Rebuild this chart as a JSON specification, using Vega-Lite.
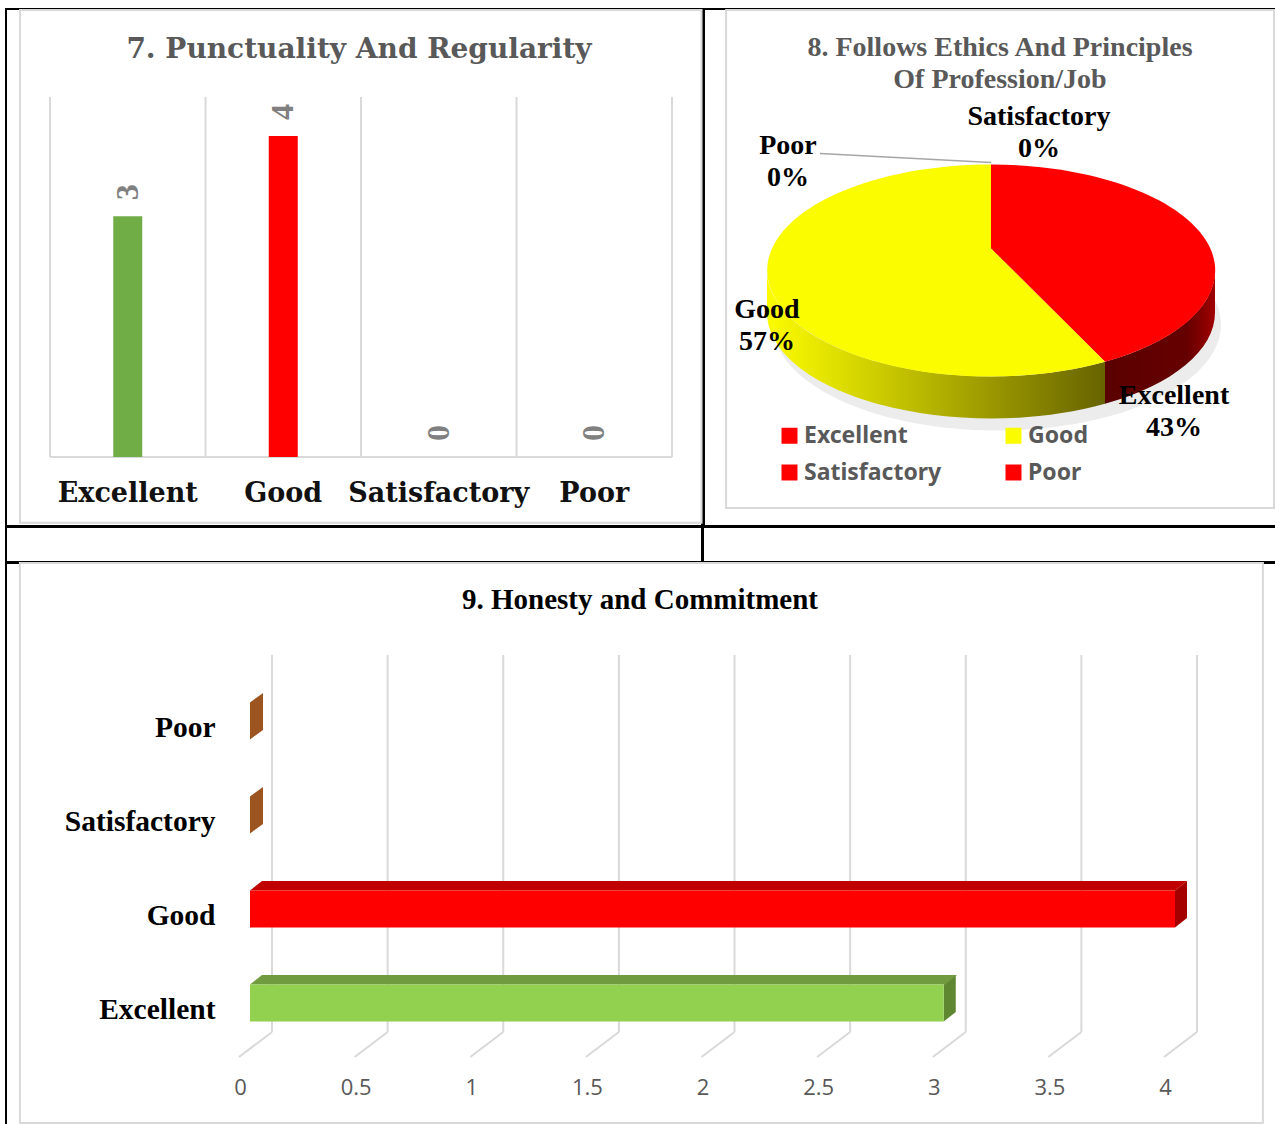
{
"$schema":"https://vega.github.io/schema/vega-lite/v6.json",
"background":"white",
"padding":{"left":2,"top":8,"right":0,"bottom":0},
"autosize":{"type":"pad"},
"spacing":-4,
"resolve":{"scale":{"color":"independent","shape":"independent"}},
"config":{"view":{"stroke":"black","strokeWidth":2},"title":{"fontWeight":"bold","anchor":"middle","frame":"group"}},
"datasets":{
"scores7":[{"category":"Excellent","score":3},{"category":"Good","score":4},{"category":"Satisfactory","score":0},{"category":"Poor","score":0}],
"scores9":[{"category":"Excellent","score":3},{"category":"Good","score":4},{"category":"Satisfactory","score":0},{"category":"Poor","score":0}],
"pie8":[{"category":"Excellent","percent":43,"label":"Excellent\n43%"},{"category":"Good","percent":57,"label":"Good\n57%"},{"category":"Satisfactory","percent":0,"label":"Satisfactory\n0%"},{"category":"Poor","percent":0,"label":"Poor\n0%"}]
},
"vconcat":[
{"hconcat":[
{"width":696,"height":517,
 "title":{"text":"7. Punctuality And Regularity","font":"DejaVu Serif","fontSize":28,"color":"#595959","offset":-55,"dx":5},
 "resolve":{"scale":{"x":"independent","y":"independent"}},
 "layer":[
 {"data":{"values":[{"left":-0.193,"right":4.19,"low":-0.82,"high":5.57}]},
  "mark":{"type":"rect","fill":null,"stroke":"#D9D9D9","strokeWidth":2,"clip":false},
  "encoding":{"x":{"field":"left","type":"quantitative","scale":{"domain":[0,4],"range":[44,666]},"axis":null},"x2":{"field":"right"},
   "y":{"field":"low","type":"quantitative","scale":{"domain":[0,4.486],"range":[448,88]},"axis":null},"y2":{"field":"high"}}},
 {"data":{"values":[{"edge":0,"low":0,"high":4.486},{"edge":1,"low":0,"high":4.486},{"edge":2,"low":0,"high":4.486},{"edge":3,"low":0,"high":4.486},{"edge":4,"low":0,"high":4.486}]},
  "mark":{"type":"rule","stroke":"#D9D9D9","strokeWidth":2},
  "encoding":{"x":{"field":"edge","type":"quantitative","scale":{"domain":[0,4],"range":[44,666]},"axis":null},
   "y":{"field":"low","type":"quantitative","scale":{"domain":[0,4.486],"range":[448,88]},"axis":null},"y2":{"field":"high"}}},
 {"data":{"values":[{"from":0,"to":4,"level":0}]},
  "mark":{"type":"rule","stroke":"#D9D9D9","strokeWidth":2},
  "encoding":{"x":{"field":"from","type":"quantitative","scale":{"domain":[0,4],"range":[44,666]},"axis":null},"x2":{"field":"to"},
   "y":{"field":"level","type":"quantitative","scale":{"domain":[0,4.486],"range":[448,88]},"axis":null}}},
 {"data":{"name":"scores7"},
  "mark":{"type":"bar","size":29},
  "encoding":{"x":{"field":"category","type":"nominal","sort":null,"scale":{"domain":["Excellent","Good","Satisfactory","Poor"],"range":[44,666],"paddingInner":0,"paddingOuter":0},
    "axis":{"title":null,"domain":false,"ticks":false,"labelAngle":0,"labelFont":"DejaVu Serif","labelFontWeight":"bold","labelFontSize":27,"labelColor":"#111111","labelPadding":0,"offset":-46,"labelOverlap":false,"labelBound":false,"labelFlush":false,"labelLimit":0,"grid":false}},
   "y":{"field":"score","type":"quantitative","scale":{"domain":[0,4.486],"range":[448,88]},"axis":null},
   "color":{"field":"category","type":"nominal","scale":{"domain":["Excellent","Good","Satisfactory","Poor"],"range":["#70AD47","#FF0000","#A5A5A5","#FFC000"]},"legend":null}}},
 {"data":{"name":"scores7"},
  "mark":{"type":"text","angle":270,"dx":24,"align":"center","baseline":"middle","font":"Liberation Serif","fontWeight":"bold","fontSize":32,"color":"#808080"},
  "encoding":{"x":{"field":"category","type":"nominal","sort":null,"scale":{"domain":["Excellent","Good","Satisfactory","Poor"],"range":[44,666],"paddingInner":0,"paddingOuter":0},"axis":null},
   "y":{"field":"score","type":"quantitative","scale":{"domain":[0,4.486],"range":[448,88]},"axis":null},
   "text":{"field":"score","type":"quantitative"}}}
 ]},
{"width":574,"height":517,
 "title":{"text":["8. Follows Ethics And Principles","Of Profession/Job"],"font":"Liberation Serif","fontSize":28,"lineHeight":32,"color":"#595959","offset":-85,"dx":9},
 "layer":[
 {"data":{"values":[{"left":-0.923,"right":0.986,"low":-0.93,"high":0.996}]},
  "mark":{"type":"rect","fill":null,"stroke":"#D9D9D9","strokeWidth":2,"clip":false},
  "encoding":{"x":{"field":"left","type":"quantitative","scale":{"domain":[-1,1]},"axis":null},"x2":{"field":"right"},"y":{"field":"low","type":"quantitative","scale":{"domain":[-1,1]},"axis":null},"y2":{"field":"high"}}},
 {"encoding":{"x":{"datum":0,"type":"quantitative","scale":{"domain":[-1,1]},"axis":null},"y":{"datum":0,"type":"quantitative","scale":{"domain":[-1,1]},"axis":null}},
  "layer":[
 {"data":{"name":"pie8"},"transform":[{"filter":"datum.category==='Good'"}],
  "mark":{"type":"point","filled":true,"opacity":1,"size":4,"shape":"M-218,57A224,106 0 1 1 230,57A224,106 0 1 1 -218,57Z","fill":"#ECECEC"}},
 {"data":{"name":"pie8"},"transform":[{"filter":"datum.category==='Excellent'"}],
  "mark":{"type":"point","filled":true,"opacity":1,"size":4,"shape":"M224,3L224,45A224,106 0 0 1 114,136.3L114,94.3A224,106 0 0 0 224,3Z",
   "fill":{"gradient":"linear","x1":0,"y1":0,"x2":1,"y2":0,"stops":[{"offset":0,"color":"#5A0000"},{"offset":0.75,"color":"#660000"},{"offset":1,"color":"#A00000"}]}}},
 {"data":{"name":"pie8"},"transform":[{"filter":"datum.category==='Good'"}],
  "mark":{"type":"point","filled":true,"opacity":1,"size":4,"shape":"M114,94.3L114,136.3A224,106 0 0 1 -224,45L-224,3A224,106 0 0 0 114,94.3Z",
   "fill":{"gradient":"linear","x1":0,"y1":0,"x2":1,"y2":0,"stops":[{"offset":0,"color":"#FCFC00"},{"offset":0.2,"color":"#E0E000"},{"offset":1,"color":"#676300"}]}}},
 {"data":{"name":"pie8"},"transform":[{"filter":"datum.category==='Excellent'"}],
  "mark":{"type":"point","filled":true,"opacity":1,"size":4,"fill":"#FF0000","shape":"M0,-19L0,-103A224,106 0 0 1 114,94.3Z"}},
 {"data":{"name":"pie8"},"transform":[{"filter":"datum.category==='Good'"}],
  "mark":{"type":"point","filled":true,"opacity":1,"size":4,"fill":"#FCFC00","shape":"M0,-19L114,94.3A224,106 0 1 1 0,-103Z"}},
 {"data":{"name":"pie8"},
  "mark":{"type":"point","filled":true,"opacity":1,"size":0,"shape":"square"},
  "encoding":{
   "color":{"field":"category","type":"nominal","scale":{"domain":["Excellent","Satisfactory","Good","Poor"],"range":["#FF0000","#FF0000","#FCFC00","#FF0000"]},
    "legend":{"orient":"none","legendX":74,"legendY":415,"columns":2,"title":null,"symbolType":"square","symbolSize":256,"symbolOpacity":1,"labelFont":"Noto Sans","labelFontSize":23,"labelFontWeight":"bold","labelColor":"#595959","columnPadding":60,"rowPadding":13,"labelOffset":3,"labelLimit":0}}}},
 {"data":{"name":"pie8"},"transform":[{"filter":"datum.category==='Poor'"}],
  "mark":{"type":"point","filled":false,"opacity":1,"size":4,"strokeWidth":1.5,"stroke":"#A6A6A6","shape":"M-171,-114L0,-105"}},
 {"data":{"name":"pie8"},"transform":[{"filter":"datum.category==='Satisfactory'"}],
  "mark":{"type":"text","lineBreak":"\n","lineHeight":32,"align":"center","baseline":"alphabetic","dx":48,"dy":-143,"font":"Liberation Serif","fontWeight":"bold","fontSize":28,"color":"black"},
  "encoding":{"text":{"field":"label"}}},
 {"data":{"name":"pie8"},"transform":[{"filter":"datum.category==='Poor'"}],
  "mark":{"type":"text","lineBreak":"\n","lineHeight":32,"align":"center","baseline":"alphabetic","dx":-203,"dy":-114,"font":"Liberation Serif","fontWeight":"bold","fontSize":28,"color":"black"},
  "encoding":{"text":{"field":"label"}}},
 {"data":{"name":"pie8"},"transform":[{"filter":"datum.category==='Good'"}],
  "mark":{"type":"text","lineBreak":"\n","lineHeight":32,"align":"center","baseline":"alphabetic","dx":-224,"dy":50,"font":"Liberation Serif","fontWeight":"bold","fontSize":28,"color":"black"},
  "encoding":{"text":{"field":"label"}}},
 {"data":{"name":"pie8"},"transform":[{"filter":"datum.category==='Excellent'"}],
  "mark":{"type":"text","lineBreak":"\n","lineHeight":32,"align":"center","baseline":"alphabetic","dx":183,"dy":136,"font":"Liberation Serif","fontWeight":"bold","fontSize":28,"color":"black"},
  "encoding":{"text":{"field":"label"}}}
  ]}
 ]}
],"spacing":-4,"resolve":{"scale":{"color":"independent","shape":"independent"}}},
{"hconcat":[
 {"width":696,"height":35,"data":{"values":[{"row":"blank"}]},"mark":{"type":"point","opacity":0},"encoding":{"x":{"datum":0,"type":"quantitative","axis":null},"y":{"datum":0,"type":"quantitative","axis":null}}},
 {"width":574,"height":35,"data":{"values":[{"row":"blank"}]},"mark":{"type":"point","opacity":0},"encoding":{"x":{"datum":0,"type":"quantitative","axis":null},"y":{"datum":0,"type":"quantitative","axis":null}}}
],"spacing":-4},
{"width":1272,"height":567,
 "title":{"text":"9. Honesty and Commitment","font":"Liberation Serif","fontSize":29,"color":"black","offset":-53,"dx":-2},
 "resolve":{"scale":{"x":"independent","y":"independent","color":"independent","shape":"independent"}},
 "layer":[
 {"data":{"values":[{"left":-1.09,"right":4.285,"low":-0.239,"high":1.247}]},
  "mark":{"type":"rect","fill":null,"stroke":"#D9D9D9","strokeWidth":2,"clip":false},
  "encoding":{"x":{"field":"left","type":"quantitative","scale":{"domain":[0,4],"range":[266,1191]},"axis":null},"x2":{"field":"right"},
   "y":{"field":"low","type":"quantitative","scale":{"domain":[0,1],"range":[470,93]},"axis":null},"y2":{"field":"high"}}},
 {"data":{"values":[{"tick":0,"low":0,"high":1},{"tick":0.5,"low":0,"high":1},{"tick":1,"low":0,"high":1},{"tick":1.5,"low":0,"high":1},{"tick":2,"low":0,"high":1},{"tick":2.5,"low":0,"high":1},{"tick":3,"low":0,"high":1},{"tick":3.5,"low":0,"high":1},{"tick":4,"low":0,"high":1}]},
  "mark":{"type":"rule","stroke":"#D9D9D9","strokeWidth":2},
  "encoding":{"x":{"field":"tick","type":"quantitative","scale":{"domain":[0,4],"range":[266,1191]},"axis":null},
    "y":{"field":"low","type":"quantitative","scale":{"domain":[0,1],"range":[469,92]},"axis":null},"y2":{"field":"high"}}},
 {"data":{"values":[{"tick":0,"low":0},{"tick":0.5,"low":0},{"tick":1,"low":0},{"tick":1.5,"low":0},{"tick":2,"low":0},{"tick":2.5,"low":0},{"tick":3,"low":0},{"tick":3.5,"low":0},{"tick":4,"low":0}]},
  "mark":{"type":"point","filled":false,"opacity":1,"size":4,"stroke":"#D9D9D9","strokeWidth":2,"shape":"M0,0L-33,25"},
   "encoding":{"x":{"field":"tick","type":"quantitative","scale":{"domain":[0,4],"range":[266,1191]},"axis":null},
    "y":{"field":"low","type":"quantitative","scale":{"domain":[0,1],"range":[469,92]},"axis":null}}},
 {"data":{"name":"scores9"},
  "mark":{"type":"point","filled":true,"opacity":1,"size":4},
  "encoding":{"x":{"field":"score","type":"quantitative","scale":{"domain":[0,4],"range":[244,1169]},"axis":null},
   "y":{"field":"category","type":"nominal","sort":null,"scale":{"domain":["Poor","Satisfactory","Good","Excellent"],"range":[111,487],"paddingInner":0,"paddingOuter":0},"axis":null},
   "shape":{"field":"category","type":"nominal","scale":{"domain":["Excellent","Good","Satisfactory","Poor"],"range":["M0,-18.5L12,-28L12,9L0,18.5Z","M0,-18.5L12.01,-28L12.01,9L0,18.5Z","M0,18.5L0,-18.5L13,-28L13,9Z","M0,18.5L0,-18.5L13.01,-28L13.01,9Z"]},"legend":null},
   "color":{"field":"category","type":"nominal","scale":{"domain":["Excellent","Good","Satisfactory","Poor"],"range":["#5F8631","#A50000","#9C5421","#9C5421"]},"legend":null}}},
 {"data":{"name":"scores9"},"transform":[{"filter":"datum.score>0"}],
  "mark":{"type":"point","filled":true,"opacity":1,"size":4},
  "encoding":{"x":{"datum":0,"type":"quantitative","scale":{"domain":[0,4],"range":[244,1169]},"axis":null},
   "y":{"field":"category","type":"nominal","sort":null,"scale":{"domain":["Poor","Satisfactory","Good","Excellent"],"range":[111,487],"paddingInner":0,"paddingOuter":0},"axis":null},
   "shape":{"field":"category","type":"nominal","scale":{"domain":["Excellent","Good"],"range":["M0,-18.5L12,-28L707,-28L695,-18.5Z","M0,-18.5L12,-28L937,-28L925,-18.5Z"]},"legend":null},
   "color":{"field":"category","type":"nominal","scale":{"domain":["Excellent","Good"],"range":["#709B3E","#C00000"]},"legend":null}}},
 {"data":{"name":"scores9"},
  "mark":{"type":"bar","size":37},
  "encoding":{"x":{"field":"score","type":"quantitative","scale":{"domain":[0,4],"range":[244,1169]},
    "axis":{"title":null,"values":[0,0.5,1,1.5,2,2.5,3,3.5,4],"format":"~g","domain":false,"ticks":false,"grid":false,"labelOffset":-10,"labelPadding":0,"offset":-53,"labelFont":"Open Sans","labelFontSize":22,"labelColor":"#595959","labelOverlap":false,"labelBound":false,"labelFlush":false}},
   "y":{"field":"category","type":"nominal","sort":null,"scale":{"domain":["Poor","Satisfactory","Good","Excellent"],"range":[111,487],"paddingInner":0,"paddingOuter":0},
    "axis":{"title":null,"domain":false,"ticks":false,"grid":false,"labelOffset":7,"labelPadding":0,"offset":-209,"labelFont":"Liberation Serif","labelFontWeight":"bold","labelFontSize":29.5,"labelColor":"black","labelOverlap":false,"labelBound":false,"labelLimit":0}},
   "color":{"field":"category","type":"nominal","scale":{"domain":["Excellent","Good","Satisfactory","Poor"],"range":["#92D050","#FF0000","#A5A5A5","#FFC000"]},"legend":null}}}
 ]}
]
}
